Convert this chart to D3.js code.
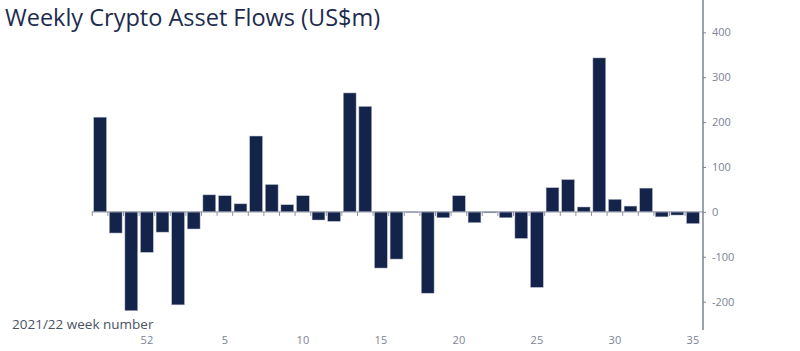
<!DOCTYPE html>
<html>
<head>
<meta charset="utf-8">
<script src="https://cdn.jsdelivr.net/npm/d3@7"></script>
<style>
  body { margin: 0; background: #fff; }
  svg { display: block; }
</style>
</head>
<body>
<script>
// weeks 49-52 of 2021, then 1-35 of 2022
let weeks = ["49", "50", "51", "52", "1", "2", "3", "4", "5", "6", "7", "8", "9", "10",
  "11", "12", "13", "14", "15", "16", "17", "18", "19", "20", "21", "22", "23", "24",
  "25", "26", "27", "28", "29", "30", "31", "32", "33", "34", "35"];
let flows = [211, -47, -220, -90, -45, -207, -38, 38, 36, 18, 169, 61, 16, 36,
  -18, -21, 265, 235, -125, -105, -1, -181, -13, 36, -24, -2, -13, -59,
  -168, 54, 72, 11, 343, 28, 13, 53, -11, -7, -26];
let xTickLabels = ["52", "5", "10", "15", "20", "25", "30", "35"];
let yTicks = [-200, -100, 0, 100, 200, 300, 400];

function drawChart() {
  var w = 800, h = 351;
  var navy = "#14234a";
  var grey = "#7b8396";

  var svg = d3.select("body").append("svg")
    .attr("width", w)
    .attr("height", h);

  var x = d3.scaleBand()
    .domain(weeks)
    .range([92.3, 700.7])
    .paddingInner(0.18)
    .paddingOuter(0.09);

  var y = d3.scaleLinear()
    .domain([-263, 472])
    .range([330, 0]);

  // title
  svg.append("text")
    .attr("x", 5)
    .attr("y", 26)
    .attr("font-family", "Open Sans")
    .attr("font-size", "23.5px")
    .attr("fill", "#1d2b4f")
    .text("Weekly Crypto Asset Flows (US$m)");

  // bars
  svg.selectAll("rect.bar")
    .data(flows)
    .enter()
    .append("rect")
    .attr("class", "bar")
    .attr("x", function(d, i) { return x(weeks[i]); })
    .attr("y", function(d) { return y(Math.max(0, d)); })
    .attr("width", x.bandwidth())
    .attr("height", function(d) { return Math.abs(y(d) - y(0)); })
    .attr("fill", navy)
    .attr("stroke", "#b7bdca")
    .attr("stroke-width", 0.5);

  // zero line with small ticks between bars
  var step = x.step();
  var base = svg.append("g");
  base.append("line")
    .attr("x1", x(weeks[0]) - 2)
    .attr("x2", 703)
    .attr("y1", y(0))
    .attr("y2", y(0))
    .attr("stroke", "#8a91a3")
    .attr("stroke-width", 1);
  base.selectAll("line.tk")
    .data(weeks)
    .enter()
    .append("line")
    .attr("class", "tk")
    .attr("x1", function(d) { return x(d) - step * 0.09; })
    .attr("x2", function(d) { return x(d) - step * 0.09; })
    .attr("y1", y(0))
    .attr("y2", y(0) + 4)
    .attr("stroke", "#8a91a3");

  // bottom week labels
  var xAxis = d3.axisBottom(x)
    .tickValues(xTickLabels)
    .tickSize(0)
    .tickPadding(0);
  var gx = svg.append("g")
    .attr("transform", "translate(0,336)")
    .call(xAxis);
  gx.select(".domain").remove();
  gx.selectAll("text")
    .attr("dy", "0.71em")
    .attr("font-family", "Open Sans")
    .attr("font-size", "11px")
    .attr("fill", grey);

  // right axis
  var yAxis = d3.axisRight(y)
    .tickValues(yTicks)
    .tickFormat(function(d) { return String(d); })
    .tickSize(3)
    .tickPadding(6);
  var gy = svg.append("g")
    .attr("transform", "translate(703,0)")
    .call(yAxis);
  gy.select(".domain").remove();
  gy.append("line")
    .attr("y1", 0)
    .attr("y2", 330)
    .attr("stroke", grey)
    .attr("stroke-width", 1.5);
  gy.selectAll(".tick line").attr("stroke", grey);
  gy.selectAll("text")
    .attr("font-family", "Open Sans")
    .attr("font-size", "11px")
    .attr("fill", grey);

  // x axis title
  svg.append("text")
    .attr("x", 12)
    .attr("y", 329)
    .attr("font-family", "Open Sans")
    .attr("font-size", "13.5px")
    .attr("fill", "#4b5263")
    .text("2021/22 week number");
}

window.onload = function() {
  drawChart();
};
</script>
</body>
</html>
